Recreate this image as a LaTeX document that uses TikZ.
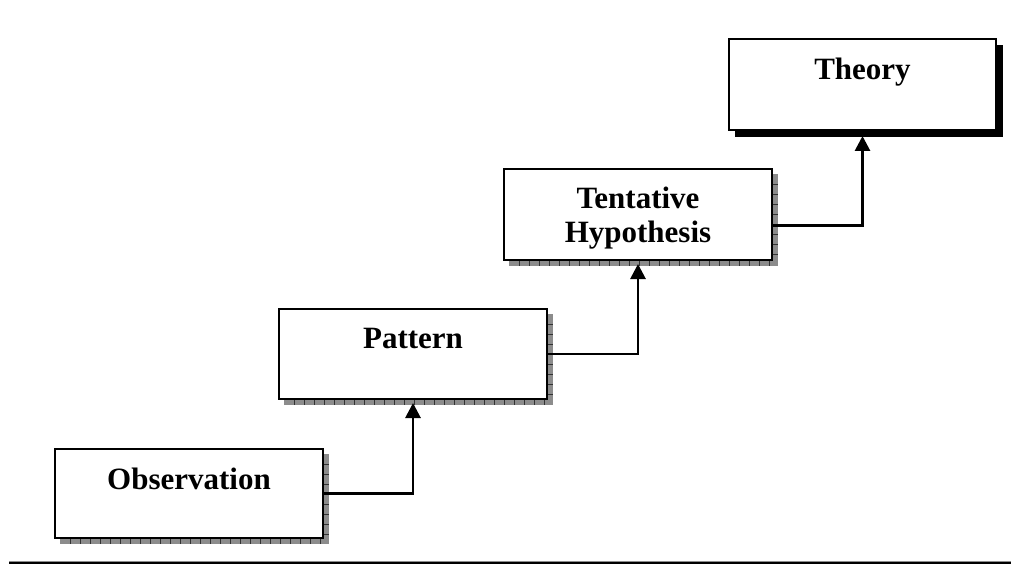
\documentclass[tikz,border=0pt]{standalone}
\usepackage{fontspec}
\setmainfont{Liberation Serif}
\usetikzlibrary{calc,arrows.meta}
\newcommand\hatchshadow[1]{%
  \fill[hatch] ($(#1.north east)+(1,5)$) rectangle ($(#1.south east)+(6,6)$);
  \fill[hatch] ($(#1.south west)+(5,1)$) rectangle ($(#1.south east)+(6,6)$);
  \foreach \i in {10,20,...,260} \draw[tickmark] ($(#1.south west)+(\i+5,1)$) -- ++(0,5);
  \foreach \j in {10,20,...,80} \draw[tickmark] ($(#1.north east)+(1,\j+5)$) -- ++(5,0);
}
\begin{document}
\begin{tikzpicture}[x=1pt,y=-1pt,
  box/.style={draw=black, line width=2pt, fill=white, minimum width=268pt, inner sep=0pt, outer sep=0pt},
  lbl/.style={font=\fontsize{31}{34}\selectfont\bfseries, inner sep=0pt, anchor=base},
  conn/.style={line width=2.8pt, -{Triangle[width=15pt,length=15pt]}},
  hatch/.style={fill=black!45},
  tickmark/.style={draw=black!80, line width=0.8pt},
  rule/.style={line width=2pt, draw=black}]
\useasboundingbox (0,0) rectangle (1011,564);
% boxes
\node[box, minimum height=89pt] (obs) at (189,493.5) {};
\node[box, minimum height=90pt] (pat) at (413,354) {};
\node[box, minimum height=91pt] (tent) at (638,214.5) {};
\node[box, minimum width=267pt, minimum height=91pt] (theo) at (862.5,84.5) {};
% shadows
\hatchshadow{obs}
\hatchshadow{pat}
\hatchshadow{tent}
\fill[black] ($(theo.north east)+(1,6)$) rectangle ($(theo.south east)+(7,7)$);
\fill[black] ($(theo.south west)+(6,1)$) rectangle ($(theo.south east)+(7,7)$);
% labels
\node[lbl] (obs-t) at ([yshift=-40pt]obs.north) {Observation};
\node[lbl] (pat-t) at ([yshift=-39pt]pat.north) {Pattern};
\node[lbl] (tent-t1) at ([yshift=-39pt]tent.north) {Tentative};
\node[lbl] (tent-t2) at ([yshift=-73pt]tent.north) {Hypothesis};
\node[lbl] (theo-t) at ([yshift=-41pt]theo.north) {Theory};
% connectors
\draw[conn] (obs.east) -| ([yshift=-4pt]pat.south);
\draw[conn] (pat.east) -| ([yshift=-4pt]tent.south);
\draw[conn] ([yshift=-11pt]tent.east) -| ([yshift=-6pt]theo.south);
% bottom rule
\coordinate (rl) at (9,563);
\coordinate (rr) at (1011,563);
\draw[draw=black!45, line width=1pt] ([yshift=1.5pt]rl) -- ([yshift=1.5pt]rr);
\draw[rule] (rl) -- (rr);
\end{tikzpicture}
\end{document}
